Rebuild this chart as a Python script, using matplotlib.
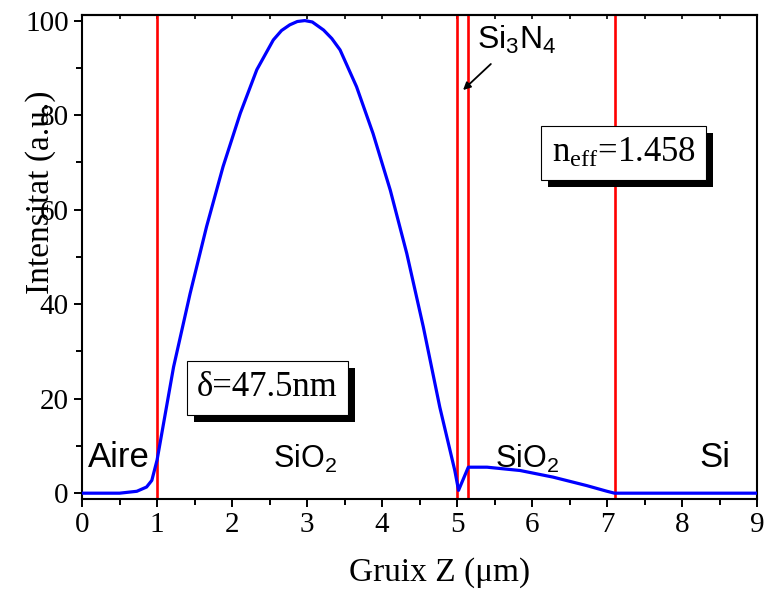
import matplotlib
matplotlib.use("Agg")
import matplotlib.pyplot as plt
import matplotlib.patheffects as pe
from matplotlib.ticker import MultipleLocator

plt.rcParams["font.family"] = ["Liberation Serif", "DejaVu Serif"]
plt.rcParams["mathtext.fontset"] = "stix"
plt.rcParams["mathtext.default"] = "regular"

# field profile
z_um = [0.0, 0.5, 0.73, 0.86, 0.93, 1.0, 1.22, 1.44, 1.66, 1.88, 2.11, 2.33,
        2.55, 2.66, 2.77, 2.87, 2.97, 3.07, 3.22, 3.33, 3.44, 3.66, 3.88,
        4.11, 4.33, 4.55, 4.77, 4.97, 5.02, 5.15, 5.4, 5.84, 6.28, 6.73,
        7.0, 7.1, 9.0]
intensity = [0.0, 0.0, 0.4, 1.3, 2.7, 7.0, 26.7, 42.2, 56.4, 69.1, 80.4, 89.6,
             95.9, 97.9, 99.1, 99.8, 100.0, 99.7, 98.0, 96.2, 93.8, 86.0, 76.1,
             64.1, 50.7, 35.2, 18.2, 4.8, 0.6, 5.5, 5.5, 4.8, 3.4, 1.6,
             0.4, 0.0, 0.0]
interfaces = [1.0, 5.0, 5.15, 7.1]

fig = plt.figure(figsize=(7.67, 5.96), dpi=100)
ax = fig.add_axes([0.107, 0.163, 0.880, 0.812])

ax.plot(z_um, intensity, color="blue", lw=2.3, zorder=3)
for zi in interfaces:
    ax.axvline(zi, color="red", lw=1.9, zorder=2)

ax.set_xlim(0, 9)
ax.set_ylim(-1.2, 101.2)
ax.xaxis.set_major_locator(MultipleLocator(1))
ax.xaxis.set_minor_locator(MultipleLocator(0.5))
ax.yaxis.set_major_locator(MultipleLocator(20))
ax.yaxis.set_minor_locator(MultipleLocator(10))
ax.tick_params(which="both", direction="out", labelsize=21, width=1.4,
               top=False, right=False)
ax.tick_params(which="major", length=6)
ax.tick_params(which="minor", length=4)
for s in ax.spines.values():
    s.set_linewidth(1.5)
ax_top = ax.secondary_xaxis("top")
ax_top.xaxis.set_major_locator(MultipleLocator(1))
ax_top.xaxis.set_minor_locator(MultipleLocator(0.5))
ax_top.tick_params(which="both", direction="in", length=3, width=1.2,
                   labeltop=False)
ax_top.spines["top"].set_linewidth(1.5)

ax.set_xlabel("Gruix Z (\u03bcm)", fontsize=24, va="center")
ax.xaxis.set_label_coords(0.53, -0.153)
ax.set_ylabel("Intensitat (a.u.)", fontsize=24, va="center")
ax.yaxis.set_label_coords(-0.062, 0.634)

sans = ["Liberation Sans", "DejaVu Sans"]
ax.text(0.08, 7.5, "Aire", family=sans, fontsize=25, va="center", ha="left")
ax.text(2.97, 7.3, "SiO$_2$", family=sans, fontsize=22, va="center", ha="center")
ax.text(5.93, 7.3, "SiO$_2$", family=sans, fontsize=22, va="center", ha="center")
ax.text(8.44, 7.5, "Si", family=sans, fontsize=25, va="center", ha="center")
ax.annotate("Si$_3$N$_4$", xy=(5.08, 85.3), xytext=(5.8, 96), family=sans,
            fontsize=23, ha="center", va="center",
            arrowprops=dict(arrowstyle="-|>", color="black", lw=1.3,
                            shrinkA=6, shrinkB=0, mutation_scale=11))

shadow = [pe.withSimplePatchShadow(offset=(5, -5), shadow_rgbFace="black", alpha=1)]
for xx, yy, s in [(2.47, 22.3, "\u03b4=47.5nm"), (7.22, 72, "n$_{eff}$=1.458")]:
    t = ax.text(xx, yy, s, fontsize=25, ha="center", va="center", zorder=5,
                bbox=dict(boxstyle="square,pad=0.3", fc="white", ec="black", lw=0.8))
    t.get_bbox_patch().set_path_effects(shadow)

fig.savefig("out.png", dpi=100)
